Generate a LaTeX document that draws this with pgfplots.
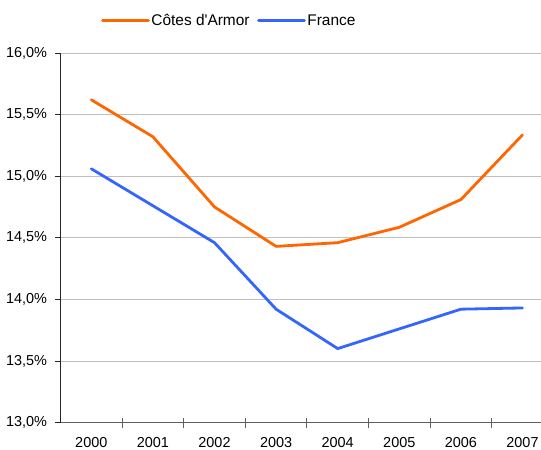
\documentclass[border=0pt]{standalone}
\usepackage{fontspec}
\setmainfont{Liberation Sans}
\usepackage{pgfplots}
\pgfplotsset{compat=1.18}
\definecolor{armor}{HTML}{FF6600}
\definecolor{france}{HTML}{3366FF}
\definecolor{gridgray}{HTML}{C0C0C0}
\definecolor{axisgray}{HTML}{606060}

\begin{document}
\begin{tikzpicture}
\begin{axis}[
  name=main,
  scale only axis,
  width=492.8bp, height=369.5bp,
  xmin=-0.5, xmax=7.5,
  ymin=13, ymax=16,
  axis x line*=bottom,
  axis y line*=left,
  axis line style={-},
  x axis line style={draw=axisgray, line width=0.9bp},
  y axis line style={draw=black!85, line width=0.9bp},
  xtick={0,...,7},
  xticklabels={2000,2001,2002,2003,2004,2005,2006,2007},
  major x tick style={draw=none},
  minor xtick={0.5,1.5,...,7.5},
  minor x tick style={draw=axisgray, line width=0.8bp},
  minor tick length=10bp,
  xtick align=center,
  ytick={13,13.5,...,16},
  y tick style={draw=black!85, line width=0.8bp},
  major tick length=5bp,
  ytick align=outside,
  ymajorgrids=true,
  grid style={draw=gridgray, line width=0.8bp},
  yticklabel={\pgfmathprintnumber[fixed,fixed zerofill,precision=1,use comma,assume math mode=true]{\tick}\%},
  ticklabel style={font=\fontsize{14.5}{17}\selectfont, text=black},
  xticklabel style={yshift=-8.5bp},
  yticklabel style={xshift=-5bp},
  legend columns=2,
  legend cell align=left,
  legend style={at={(0.342,1.0874)}, anchor=center, draw=none, fill=none,
    font=\fontsize{15.5}{18}\selectfont, inner sep=0pt,
    nodes={inner xsep=1.5bp, inner ysep=1bp},
    /tikz/every even column/.append style={column sep=6bp}},
  legend image code/.code={\draw[#1] (0bp,0bp) -- (46bp,0bp);},
  every axis plot/.append style={line width=2.8bp, line join=round, line cap=round},
]
\addplot[armor] coordinates {
  (0,15.62) (1,15.32) (2,14.75) (3,14.43) (4,14.46) (5,14.585) (6,14.81) (7,15.335)
};
\addlegendentry{Côtes d\textquotesingle Armor}
\addplot[france] coordinates {
  (0,15.06) (1,14.76) (2,14.46) (3,13.92) (4,13.60) (5,13.76) (6,13.92) (7,13.93)
};
\addlegendentry{France}
\end{axis}
\pgfresetboundingbox
\useasboundingbox ([xshift=-60.5bp,yshift=-27.5bp]main.south west)
  rectangle ([xshift=480.5bp,yshift=422.5bp]main.south west);
\end{tikzpicture}
\end{document}
